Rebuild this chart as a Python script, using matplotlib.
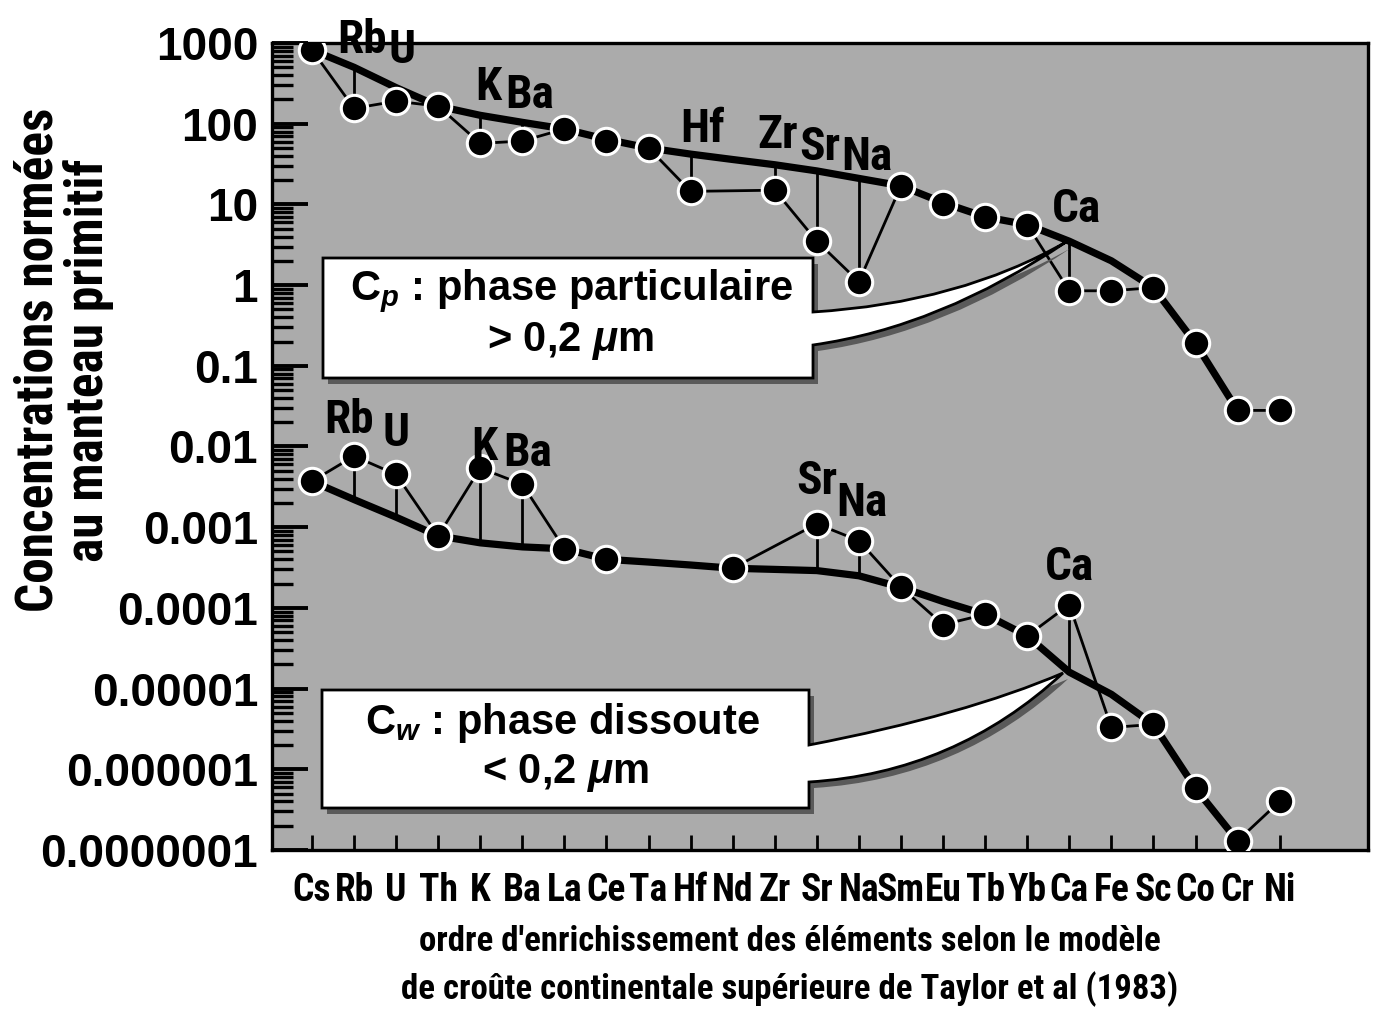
import numpy as np
import matplotlib
matplotlib.use("Agg")
import matplotlib.pyplot as plt
import matplotlib.font_manager as fm
from matplotlib.path import Path
from matplotlib.patches import PathPatch
from matplotlib.ticker import FixedLocator, LogLocator, FuncFormatter, NullFormatter
import matplotlib.transforms as mtransforms

nan = np.nan

# ---------------- data ----------------
elements = ['Cs', 'Rb', 'U', 'Th', 'K', 'Ba', 'La', 'Ce', 'Ta', 'Hf', 'Nd', 'Zr',
            'Sr', 'Na', 'Sm', 'Eu', 'Tb', 'Yb', 'Ca', 'Fe', 'Sc', 'Co', 'Cr', 'Ni']

# Cp : phase particulaire (> 0,2 µm)
cp_values = [820, 155, 190, 165, 57, 61, 86, 61, 50, 14.5, nan, 15,
             3.5, 1.1, 17, 10, 7.0, 5.6, 0.85, 0.85, 0.93, 0.19, 0.028, 0.028]
cp_trend = [820, 500, 280, 165, 127, 104, 86, 64, 50, 42, 36, 31,
            26, 21, 17, 10.5, 7.0, 5.6, 3.5, 2.0, 0.93, 0.19, 0.028, nan]
cp_anomalies = ['Rb', 'U', 'K', 'Ba', 'Hf', 'Zr', 'Sr', 'Na', 'Ca']

# Cw : phase dissoute (< 0,2 µm)
cw_values = [0.0037, 0.0076, 0.0045, 0.00078, 0.0054, 0.0034, 0.00054, 0.0004,
             nan, nan, 0.00031, nan, 0.0011, 0.00068, 0.00018, 6.2e-5, 8.3e-5,
             4.5e-5, 1.1e-4, 3.3e-6, 3.6e-6, 5.8e-7, 1.3e-7, 4.0e-7]
cw_trend = [0.0037, 0.0022, 0.00133, 0.00078, 0.00064, 0.00057, 0.00054, 0.0004,
            0.00037, 0.00034, 0.00031, 0.0003, 0.00029, 0.00025, 0.00018, 0.00012,
            8.3e-5, 4.5e-5, 1.6e-5, 8.5e-6, 3.6e-6, 5.8e-7, 1.3e-7, nan]
cw_anomalies = ['Rb', 'U', 'K', 'Ba', 'Sr', 'Na', 'Ca']

y_ticks = [1e3, 1e2, 1e1, 1, 0.1, 0.01, 1e-3, 1e-4, 1e-5, 1e-6, 1e-7]
y_ticklabels = ['1000', '100', '10', '1', '0.1', '0.01', '0.001', '0.0001',
                '0.00001', '0.000001', '0.0000001']

# element labels written over the anomalous points (x position, baseline value)
cp_labels = [('Rb', 1.19, 752), ('U', 2.14, 565), ('K', 4.2, 196), ('Ba', 5.17, 155),
             ('Hf', 9.29, 59), ('Zr', 11.07, 50), ('Sr', 12.07, 35.5), ('Na', 13.18, 26.5),
             ('Ca', 18.17, 6.0)]
cw_labels = [('Rb', 0.88, 0.0148), ('U', 2.0, 0.0102), ('K', 4.1, 0.0069),
             ('Ba', 5.12, 0.0058), ('Sr', 12.0, 0.0026), ('Na', 13.06, 0.00138),
             ('Ca', 18.0, 0.000224)]

# ---------------- fonts ----------------
_fonts = fm.fontManager.ttflist
_names = {f.name for f in _fonts}
narrow_kw = None
for cand in ['Liberation Sans Narrow', 'Roboto Condensed', 'Open Sans Condensed',
             'Noto Sans Condensed']:
    if cand in _names:
        narrow_kw = dict(family=cand)
        break
if narrow_kw is None:
    if any(f.name == 'DejaVu Sans' and 'condensed' in str(f.stretch) for f in _fonts):
        narrow_kw = dict(family='DejaVu Sans', stretch='condensed')
        nscale = 0.9
    else:
        narrow_kw = dict(family='Liberation Sans')
        nscale = 0.82
else:
    nscale = 1.0

plt.rcParams['font.family'] = ['Liberation Sans', 'DejaVu Sans']
plt.rcParams['mathtext.fontset'] = 'custom'
plt.rcParams['mathtext.rm'] = 'Liberation Sans:bold'
plt.rcParams['mathtext.it'] = 'Liberation Sans:bold:italic'
plt.rcParams['mathtext.bf'] = 'Liberation Sans:bold'

# ---------------- figure ----------------
W, H = 1381, 1016
fig = plt.figure(figsize=(W / 100, H / 100), dpi=100)
fig.patch.set_facecolor('white')
L, R, T, B = 272, 1368, 43, 850
ax = fig.add_axes([L / W, 1 - B / H, (R - L) / W, (B - T) / H])
ax.set_facecolor('#ababab')
ax.set_yscale('log')
ax.set_ylim(1e-7, 1e3)
ax.set_xlim(-0.95, 25.1)

x = np.arange(len(elements))
idx = {e: i for i, e in enumerate(elements)}


def draw_series(vals, trend, anomalies):
    vals = np.asarray(vals, float)
    trend = np.asarray(trend, float)
    ok = ~np.isnan(vals)
    okt = ~np.isnan(trend)
    # thick reference curve
    ax.plot(x[okt], trend[okt], color='black', lw=5.2, solid_capstyle='round',
            solid_joinstyle='round', zorder=3)
    # thin link between successive points
    ax.plot(x[ok], vals[ok], color='black', lw=2.0, zorder=2)
    # drop lines from anomalous points to the reference curve
    for e in anomalies:
        i = idx[e]
        ax.plot([i, i], [vals[i], trend[i]], color='black', lw=2.0, zorder=2)
    # points
    ax.plot(x[ok], vals[ok], 'o', ms=19, mfc='black', mec='white', mew=2.2, zorder=5)


draw_series(cp_values, cp_trend, cp_anomalies)
draw_series(cw_values, cw_trend, cw_anomalies)

for name, xi, yv in cp_labels + cw_labels:
    ax.text(xi, yv, name, ha='center', va='baseline', fontsize=34 * nscale,
            fontweight='bold', clip_on=False, zorder=6, **narrow_kw)

# ---------------- axes styling ----------------
for s in ax.spines.values():
    s.set_linewidth(2.4)
    s.set_color('black')

ax.yaxis.set_major_locator(FixedLocator(y_ticks))
ax.yaxis.set_major_formatter(FuncFormatter(
    lambda v, p: y_ticklabels[int(np.argmin([abs(np.log10(t) - np.log10(v)) for t in y_ticks]))]))
ax.yaxis.set_minor_locator(LogLocator(base=10, subs=np.arange(2, 10), numticks=30))
ax.yaxis.set_minor_formatter(NullFormatter())
ax.tick_params(axis='y', which='major', direction='in', length=26, width=2.8,
               pad=10, labelsize=33)
ax.tick_params(axis='y', which='minor', direction='in', length=15, width=2.4)
for lab in ax.get_yticklabels():
    lab.set_fontweight('bold')

ax.set_xticks(x)
ax.set_xticklabels(elements)
ax.tick_params(axis='x', which='major', direction='in', length=11, width=2.0, pad=16)
for lab in ax.get_xticklabels():
    lab.set_fontweight('bold')
    lab.set_fontsize(27 * nscale)
    lab.set_fontfamily(narrow_kw['family'])
    if 'stretch' in narrow_kw:
        lab.set_fontstretch(narrow_kw['stretch'])

# ---------------- call-out boxes ----------------
def fx(px):
    return (px - L) / (R - L)


def fy(py):
    return (B - py) / (B - T)


def callout(left, right, top, bottom, a1, a2, tip, c_up, c_lo):
    verts = [(fx(left), fy(top)), (fx(right), fy(top)), (fx(right), fy(a1)),
             (fx(c_up[0]), fy(c_up[1])), (fx(tip[0]), fy(tip[1])),
             (fx(c_lo[0]), fy(c_lo[1])), (fx(right), fy(a2)),
             (fx(right), fy(bottom)), (fx(left), fy(bottom)), (fx(left), fy(top))]
    codes = [Path.MOVETO, Path.LINETO, Path.LINETO, Path.CURVE3, Path.CURVE3,
             Path.CURVE3, Path.CURVE3, Path.LINETO, Path.LINETO, Path.CLOSEPOLY]
    path = Path(verts, codes)
    shadow_tr = ax.transAxes + mtransforms.ScaledTranslation(5 / 100, -6 / 100,
                                                             fig.dpi_scale_trans)
    ax.add_patch(PathPatch(path, transform=shadow_tr, facecolor='#5a5a5a',
                           edgecolor='none', zorder=7))
    ax.add_patch(PathPatch(path, transform=ax.transAxes, facecolor='white',
                           edgecolor='black', lw=2.0, zorder=8))


callout(323, 813, 258, 378, 312, 345, (1066, 242), (960, 303), (940, 327))
callout(322, 809, 690, 808, 745, 782, (1063, 673), (965, 715), (955, 773))

ax.text(fx(572), fy(291), r'C$_{\mathit{p}}$ : phase particulaire', transform=ax.transAxes,
        ha='center', va='center', fontsize=30, fontweight='bold', zorder=9)
ax.text(fx(570), fy(341), r'> 0,2 $\mathit{\mu}$m', transform=ax.transAxes,
        ha='center', va='center', fontsize=30, fontweight='bold', zorder=9)
ax.text(fx(562), fy(723), r'C$_{\mathit{w}}$ : phase dissoute', transform=ax.transAxes,
        ha='center', va='center', fontsize=30, fontweight='bold', zorder=9)
ax.text(fx(565), fy(773), r'< 0,2 $\mathit{\mu}$m', transform=ax.transAxes,
        ha='center', va='center', fontsize=30, fontweight='bold', zorder=9)

# ---------------- axis titles ----------------
fig.text(64 / W, 1 - 360 / H, 'Concentrations normées\nau manteau primitif',
         rotation=90, ha='center', va='center', fontsize=37 * nscale,
         fontweight='bold', linespacing=1.0, **narrow_kw)
fig.text(790 / W, 1 - 966 / H,
         "ordre d'enrichissement des éléments selon le modèle\n"
         "de croûte continentale supérieure de Taylor et al (1983)",
         ha='center', va='center', fontsize=25 * nscale, fontweight='bold',
         linespacing=1.45, **narrow_kw)

fig.savefig('out.png', dpi=100)
